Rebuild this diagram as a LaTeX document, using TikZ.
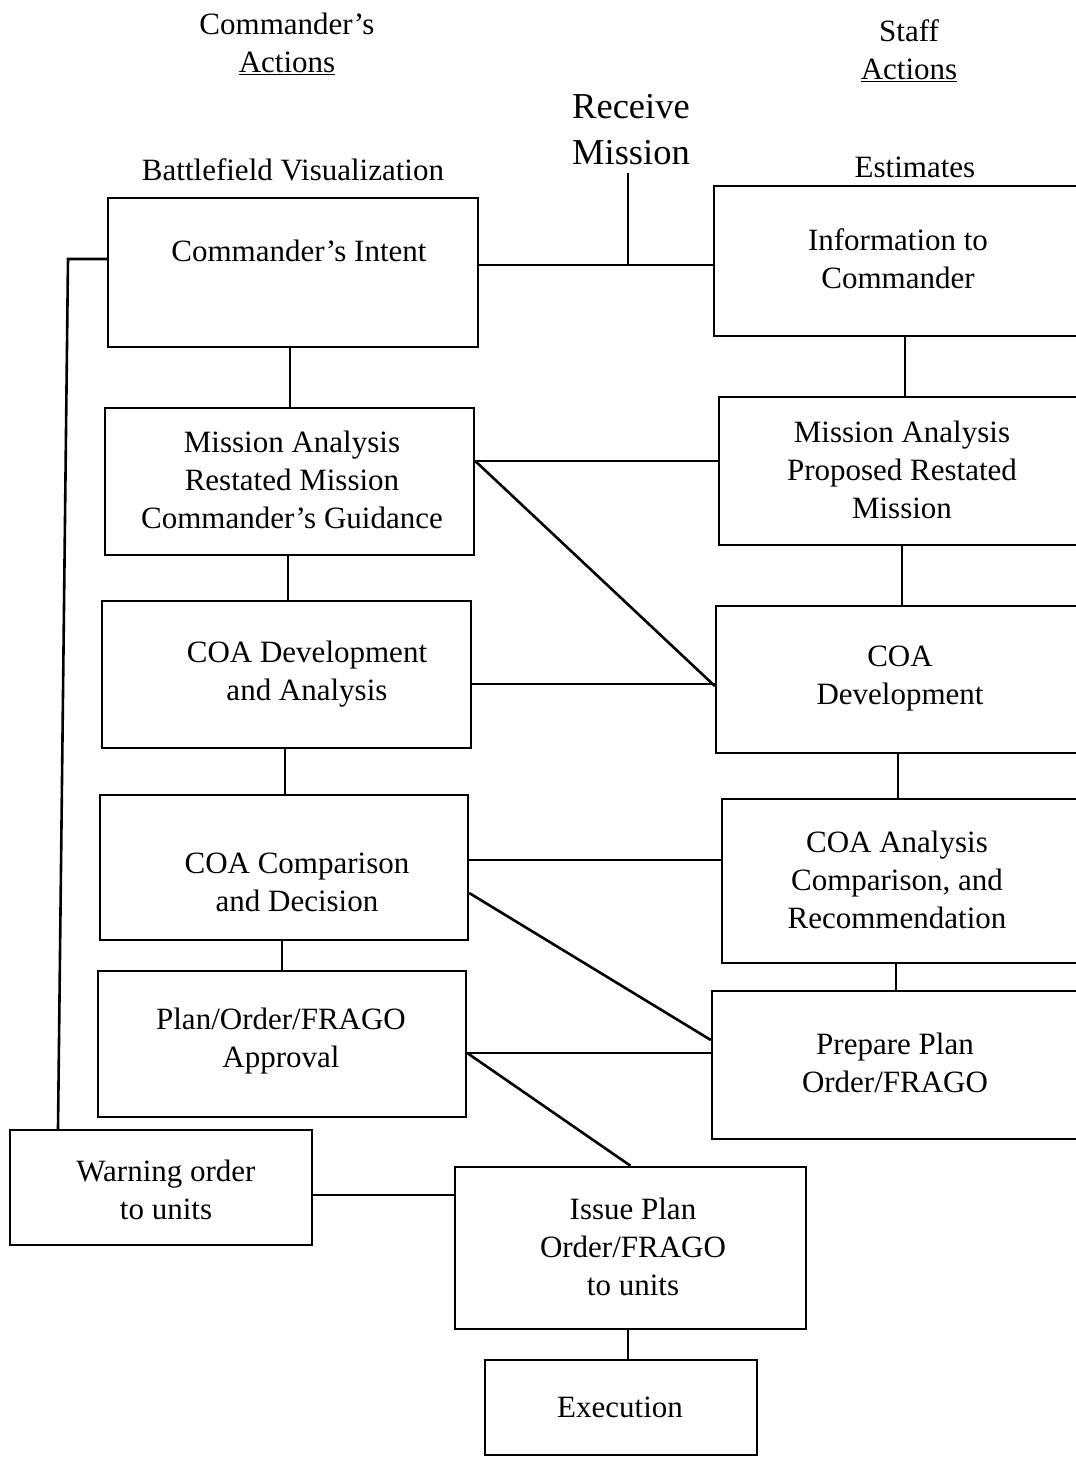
\documentclass[tikz,border=0pt]{standalone}
\usepackage{fontspec}
\setmainfont{Liberation Serif}
\begin{document}
\begin{tikzpicture}[x=1pt,y=-1pt,
  box/.style={draw,line width=2.4pt,inner sep=0pt},
  txt/.style={align=center,inner sep=0pt,font=\fontsize{31}{38}\selectfont},
  big/.style={align=center,inner sep=0pt,font=\fontsize{36.5}{46}\selectfont},
  conn/.style={line width=2.6pt}]
\useasboundingbox (0,0) rectangle (1076,1457);
\clip (0,0) rectangle (1076,1457);
\fill[white] (0,0) rectangle (1076,1457);
% headers
\node[txt] (hc) at (287,44) {Commander's\\\underline{Actions}};
\node[txt] (hs) at (909,51) {Staff\\\underline{Actions}};
\node[big] (rm) at (631,130) {Receive\\Mission};
\node[txt] (bv) at (293,170) {Battlefield Visualization};
\node[txt] (es) at (915,167) {Estimates};
% left boxes
\node[box,minimum width=370,minimum height=149] (ci) at (293,272.5) {};
\node[txt] (cit) at (299,251) {Commander's Intent};
\node[box,minimum width=369,minimum height=147] (ma) at (289.5,481.5) {};
\node[txt] (mat) at (292,479.5) {Mission Analysis\\Restated Mission\\Commander's Guidance};
\node[box,minimum width=369,minimum height=147] (coa) at (286.5,674.5) {};
\node[txt] (coat) at (307,674) {COA Development\\and Analysis};
\node[box,minimum width=368,minimum height=145] (cmp) at (284,867.5) {};
\node[txt] (cmpt) at (297,882) {COA Comparison\\and Decision};
\node[box,minimum width=368,minimum height=146] (apr) at (282,1044) {};
\node[txt] (aprt) at (281,1041) {Plan/Order/FRAGO\\Approval};
\node[box,minimum width=302,minimum height=115] (warn) at (161,1187.5) {};
\node[txt] (warnt) at (166,1190) {Warning order\\to units};
\node[box,minimum width=351,minimum height=162] (iss) at (630.5,1248) {};
\node[txt] (isst) at (633,1246.5) {Issue Plan\\Order/FRAGO\\to units};
\node[box,minimum width=272,minimum height=95] (ex) at (621,1407.5) {};
\node[txt] (ext) at (620,1407) {Execution};
% right boxes (cut off at right edge)
\node[box,minimum width=380,minimum height=150] (r1) at (904,261) {};
\node[txt] (r1t) at (898,259) {Information to\\Commander};
\node[box,minimum width=375,minimum height=148] (r2) at (906.5,471) {};
\node[txt] (r2t) at (902,470) {Mission Analysis\\Proposed Restated\\Mission};
\node[box,minimum width=378,minimum height=147] (r3) at (905,679.5) {};
\node[txt] (r3t) at (900,679) {COA\\Development};
\node[box,minimum width=372,minimum height=164] (r4) at (908,881) {};
\node[txt] (r4t) at (897,880) {COA Analysis\\Comparison, and\\Recommendation};
\node[box,minimum width=382,minimum height=148] (r5) at (903,1065) {};
\node[txt] (r5t) at (895,1063) {Prepare Plan\\Order/FRAGO};
% connectors
\coordinate (rmj) at (628,265);
\draw[conn] (ci.east |- rmj) -- (r1.west |- rmj);
\draw[conn] (rm.south -| rmj) ++(0,8) -- (rmj);
\draw[conn] (ci.south -| 290,0) -- (ma.north -| 290,0);
\draw[conn] (ma.south -| 288,0) -- (coa.north -| 288,0);
\draw[conn] (coa.south -| 285,0) -- (cmp.north -| 285,0);
\draw[conn] (cmp.south -| 282,0) -- (apr.north -| 282,0);
\draw[conn] (r1.south -| 905,0) -- (r2.north -| 905,0);
\draw[conn] (r2.south -| 902,0) -- (r3.north -| 902,0);
\draw[conn] (r3.south -| 898,0) -- (r4.north -| 898,0);
\draw[conn] (r4.south -| 896,0) -- (r5.north -| 896,0);
\draw[conn] (ma.east |- 0,461) -- (r2.west |- 0,461);
\draw[conn] (ma.east |- 0,461) -- (r3.west |- 0,686);
\draw[conn] (coa.east |- 0,684) -- (r3.west |- 0,684);
\draw[conn] (cmp.east |- 0,860) -- (r4.west |- 0,860);
\draw[conn] (cmp.east |- 0,893) -- (r5.west |- 0,1040);
\draw[conn] (apr.east |- 0,1053) -- (r5.west |- 0,1053);
\draw[conn] (apr.east |- 0,1053) -- (iss.north);
\draw[conn] (warn.east |- 0,1195) -- (iss.west |- 0,1195);
\draw[conn] (iss.south -| 628,0) -- (ex.north -| 628,0);
\draw[conn] (ci.west |- 0,259) -- (68,259) -- (warn.north -| 58,0);
\end{tikzpicture}
\end{document}
